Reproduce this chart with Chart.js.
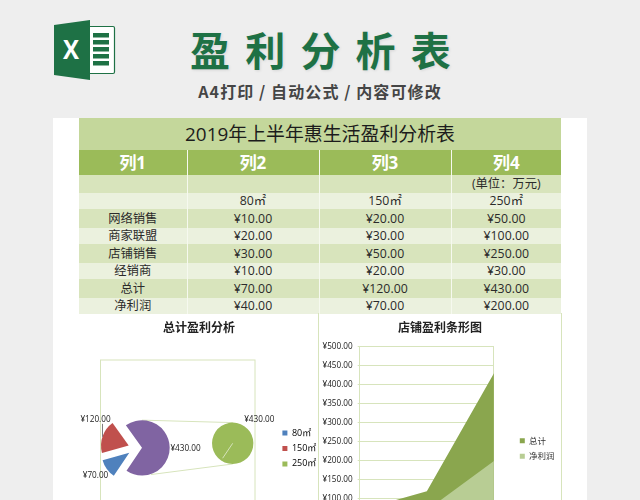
<!doctype html>
<html>
<head>
<meta charset="utf-8">
<title>盈利分析表</title>
<script src="https://cdn.jsdelivr.net/npm/chart.js@4.4.9/dist/chart.umd.min.js"></script>
<style>
html, body { margin: 0; width: 640px; height: 500px; overflow: hidden; background: #eeeeee; }
body { position: relative; font-family: "Open Sans", "Noto Sans CJK SC", sans-serif; }
div, canvas, svg, table { position: absolute; }
#heading { left: 0; top: 23px; width: 656px; text-align: center; font: bold 40px/52px "Noto Sans CJK SC"; letter-spacing: 15.2px; color: #1e7145; text-shadow: 1px 1px 3px rgba(0,0,0,.1); }
#sub { left: 0; top: 79px; width: 640px; text-align: center; font: bold 16px/24px "Noto Sans CJK SC"; color: #454545; letter-spacing: 1.1px; }
#sheet { left: 53px; top: 118px; width: 534px; height: 382px; background: #fff; }
#grid { left: 79px; top: 118px; width: 482px; border-collapse: collapse; table-layout: fixed; font-size: 12.3px; line-height: 14px; color: #2b2b2b; }
#grid td { padding: 0; text-align: center; border-right: 1px solid #f6f9ef; overflow: hidden; white-space: nowrap; }
#grid td:last-child { border-right: 0; }
#grid .caption td { background: #c4d79b; font-size: 18.9px; line-height: 24px; color: #1c1c1c; }
#grid .head td { background: #9bbb59; color: #fff; font-weight: bold; font-size: 17px; line-height: 22px; }
#grid .dark td { background: #d8e4bc; }
#grid .light td { background: #ebf1de; }
#panelL { left: 80px; top: 318px; }
#sat { left: 80px; top: 318px; }
#panelR { left: 319px; top: 318px; }
#edge { left: 318px; top: 313px; width: 242px; height: 187px; border-left: 1px solid #d7e4bc; border-right: 1px solid #d7e4bc; }
</style>
<script>
const TITLE = '2019年上半年惠生活盈利分析表';
const HEADERS = ['列1', '列2', '列3', '列4'];
const UNIT = '(单位：万元)';
const SIZES = ['80㎡', '150㎡', '250㎡'];
const ROW_NAMES = ['网络销售', '商家联盟', '店铺销售', '经销商', '总计', '净利润'];
const ONLINE = [10, 20, 50];
const ALLIANCE = [20, 30, 100];
const STORE = [30, 50, 250];
const DEALER = [10, 20, 30];
const TOTAL = [70, 120, 430];
const NET = [40, 70, 200];
const ROW_VALUES = [ONLINE, ALLIANCE, STORE, DEALER, TOTAL, NET];
const COL_WIDTHS = [108, 132, 132, 110];
const ROW_HEIGHTS = [19, 16, 19, 16, 19, 16];

const Y_TICKS_MAX = 500;
const Y_TICKS_STEP = 50;

const BLUE = '#4f81bd', RED = '#c0504d', GREEN = '#9bbb59', PURPLE = '#8064a2';
const LINE = '#d7e4bc';
const CJK = '"Noto Sans CJK SC"';
const money = v => '¥' + v.toFixed(2);

function buildTable() {
  let t = document.getElementById('grid');
  let html = '<colgroup>' + COL_WIDTHS.map(w => `<col style="width:${w}px">`).join('') + '</colgroup>';
  html += `<tr class="caption" style="height:32px"><td colspan="4">${TITLE}</td></tr>`;
  html += '<tr class="head" style="height:25px">' + HEADERS.map(h => `<td>${h}</td>`).join('') + '</tr>';
  html += `<tr class="dark" style="height:18px"><td></td><td></td><td></td><td>${UNIT}</td></tr>`;
  html += '<tr class="light" style="height:16px"><td></td>' + SIZES.map(s => `<td>${s}</td>`).join('') + '</tr>';
  ROW_NAMES.forEach((name, i) => {
    html += `<tr class="${i % 2 ? 'light' : 'dark'}" style="height:${ROW_HEIGHTS[i]}px"><td>${name}</td>`
      + ROW_VALUES[i].map(v => `<td>${money(v)}</td>`).join('') + '</tr>';
  });
  t.innerHTML = html;
}

function text(ctx, str, x, y) {
  ctx.font = '8.2px "Open Sans"';
  ctx.fillStyle = '#222';
  ctx.textAlign = 'center';
  ctx.textBaseline = 'middle';
  ctx.fillText(str, x, y);
}

// legend sits lower than the library centres it
function moveLegend(chart, left) {
  let lg = chart.legend;
  let w = lg.width;
  lg.left = left;
  lg.right = left + w;
  lg.top += 15;
  lg.bottom += 15;
}

function go() {
  buildTable();

  // the small pie goes on its own canvas, same box as the main one
  let satellite = new Chart(document.getElementById('sat'), {
    type: 'pie',
    data: { labels: [SIZES[2]], datasets: [{ data: [TOTAL[2]], backgroundColor: [GREEN], borderWidth: 0 }] },
    options: {
      responsive: false,
      animation: false,
      radius: 20.7,
      rotation: 214,
      layout: { padding: { left: 67.4, top: 19.6 } },
      plugins: { legend: { display: false }, tooltip: { enabled: false } },
    },
    plugins: [{
      id: 'satLabel',
      afterDraw(chart) {
        let arc = chart.getDatasetMeta(0).data[0];
        let ctx = chart.ctx;
        ctx.save();
        ctx.strokeStyle = '#d5e2ba';
        ctx.beginPath();
        ctx.moveTo(arc.x, arc.y);
        ctx.lineTo(arc.x + Math.cos(arc.startAngle) * 18, arc.y + Math.sin(arc.startAngle) * 18);
        ctx.stroke();
        text(ctx, money(TOTAL[2]), arc.x + 26.6, arc.y - 23.3);
        ctx.restore();
      },
    }],
  });

  const SHIFT = [[-12.7, 5], [-13.3, -2.3], [0, 0]];
  const LABEL_AT = [[-46.5, 28], [-46.5, -28], [43.5, 1]];

  new Chart(document.getElementById('panelL'), {
    type: 'pie',
    data: { labels: SIZES, datasets: [{ data: TOTAL, backgroundColor: [BLUE, RED, PURPLE], borderWidth: 0 }] },
    options: {
      responsive: false,
      animation: false,
      radius: 27.7,
      rotation: 214,
      plugins: {
        tooltip: { enabled: false },
        title: {
          display: true,
          text: '总计盈利分析',
          color: '#222',
          font: { family: CJK, size: 12, weight: 'bold' },
          padding: { top: 2.5, bottom: 11.8 },
        },
        legend: {
          position: 'right',
          labels: {
            boxWidth: 5,
            boxHeight: 5,
            padding: 6.4,
            color: '#333',
            font: { family: '"Open Sans", ' + CJK, size: 9 },
            generateLabels: () => SIZES.map((s, i) => ({
              text: s, fillStyle: [BLUE, RED, GREEN][i], lineWidth: 0, strokeStyle: 'transparent', index: i,
            })),
          },
        },
      },
    },
    plugins: [{
      id: 'ofPie',
      afterLayout(chart) {
        // pie sits far left of the legend, with the legend at its own spot
        chart.chartArea.left = 0;
        chart.chartArea.right = 124;
        moveLegend(chart, 196);
      },
      afterDatasetsUpdate(chart) {
        chart.getDatasetMeta(0).data.forEach((arc, i) => {
          arc.x += SHIFT[i][0];
          arc.y += SHIFT[i][1];
        });
      },
      beforeDatasetsDraw(chart) {
        let ctx = chart.ctx;
        let main = chart.getDatasetMeta(0).data[2];
        let sat = satellite.getDatasetMeta(0).data[0];
        ctx.save();
        ctx.strokeStyle = LINE;
        ctx.lineWidth = 1;
        ctx.strokeRect(20.5, 42, 154.5, 174);
        ctx.beginPath();
        ctx.moveTo(main.x, main.y - main.outerRadius);
        ctx.lineTo(sat.x, sat.y - sat.outerRadius);
        ctx.moveTo(main.x + 9, main.y + main.outerRadius - 1);
        ctx.lineTo(sat.x, sat.y + sat.outerRadius);
        ctx.stroke();
        ctx.restore();
      },
      afterDraw(chart) {
        let ctx = chart.ctx;
        let main = chart.getDatasetMeta(0).data[2];
        ctx.save();
        TOTAL.forEach((v, i) => text(ctx, money(v), main.x + LABEL_AT[i][0], main.y + LABEL_AT[i][1]));
        ctx.strokeStyle = '#7f7f7f';
        ctx.beginPath();
        ctx.moveTo(main.x - 39.5, main.y - 24);
        ctx.lineTo(main.x - 39.5, main.y - 11);
        ctx.stroke();
        ctx.restore();
      },
    }],
  });

  new Chart(document.getElementById('panelR'), {
    type: 'line',
    data: {
      labels: SIZES,
      datasets: [
        { label: ROW_NAMES[4], data: TOTAL, backgroundColor: '#8aa64e', fill: 'origin', order: 2 },
        { label: ROW_NAMES[5], data: NET, backgroundColor: '#b8cd94', fill: 'origin', order: 1 },
      ],
    },
    options: {
      responsive: false,
      animation: false,
      layout: { padding: { right: 15.5 } },
      elements: { line: { borderWidth: 0, tension: 0 }, point: { radius: 0 } },
      scales: {
        x: {
          offset: false,
          afterFit(s) { s.height = 12; },
          grid: { color: c => (c.index === 1 ? 'transparent' : LINE), drawTicks: false },
          border: { color: LINE },
          ticks: { color: '#222', font: { family: '"Open Sans", ' + CJK, size: 8 } },
        },
        y: {
          min: 0,
          max: Y_TICKS_MAX,
          afterFit(s) { s.width = 40.7; },
          grid: { color: LINE, tickLength: 2 },
          border: { color: LINE },
          ticks: {
            stepSize: Y_TICKS_STEP,
            padding: 5,
            color: '#222',
            font: { family: '"Open Sans"', size: 8.2 },
            callback: v => money(v),
          },
        },
      },
      plugins: {
        tooltip: { enabled: false },
        title: {
          display: true,
          text: '店铺盈利条形图',
          color: '#222',
          font: { family: CJK, size: 12, weight: 'bold' },
          padding: { top: 2.5, bottom: 11.8 },
        },
        legend: {
          position: 'right',
          labels: {
            boxWidth: 5,
            boxHeight: 5,
            padding: 6.8,
            color: '#333',
            font: { family: CJK, size: 8.5 },
            sort: (a, b) => a.datasetIndex - b.datasetIndex,
          },
        },
      },
    },
    plugins: [{
      id: 'moveBoxes',
      afterLayout(chart) {
        moveLegend(chart, 194);
        chart.titleBlock.left = 0;
        chart.titleBlock.right = chart.width;
      },
    }],
  });
}

window.onload = go;
</script>
</head>
<body>
<svg style="left:54px;top:20px" width="62" height="60" viewBox="0 0 62 60">
  <rect x="30" y="6.5" width="30.5" height="47" rx="1.5" fill="#fff" stroke="#1e7145" stroke-width="1.2"/>
  <g fill="#1e7145">
    <rect x="39" y="13" width="16" height="4.5"/><rect x="39" y="20" width="16" height="4.5"/>
    <rect x="39" y="27" width="16" height="4.5"/><rect x="39" y="34" width="16" height="4.5"/>
    <rect x="39" y="41" width="16" height="4.5"/>
  </g>
  <polygon points="0,5 36,0 36,60 0,55" fill="#1e7145"/>
  <text x="17" y="39" text-anchor="middle" fill="#fff" font-family="Open Sans" font-weight="bold" font-size="26" textLength="16" lengthAdjust="spacingAndGlyphs">X</text>
</svg>
<div id="heading">盈利分析表</div>
<div id="sub">A4打印 / 自动公式 / 内容可修改</div>
<div id="sheet"></div>
<table id="grid"></table>
<div id="edge"></div>
<canvas id="panelL" width="238" height="231"></canvas>
<canvas id="sat" width="238" height="231"></canvas>
<canvas id="panelR" width="242" height="231"></canvas>
</body>
</html>
